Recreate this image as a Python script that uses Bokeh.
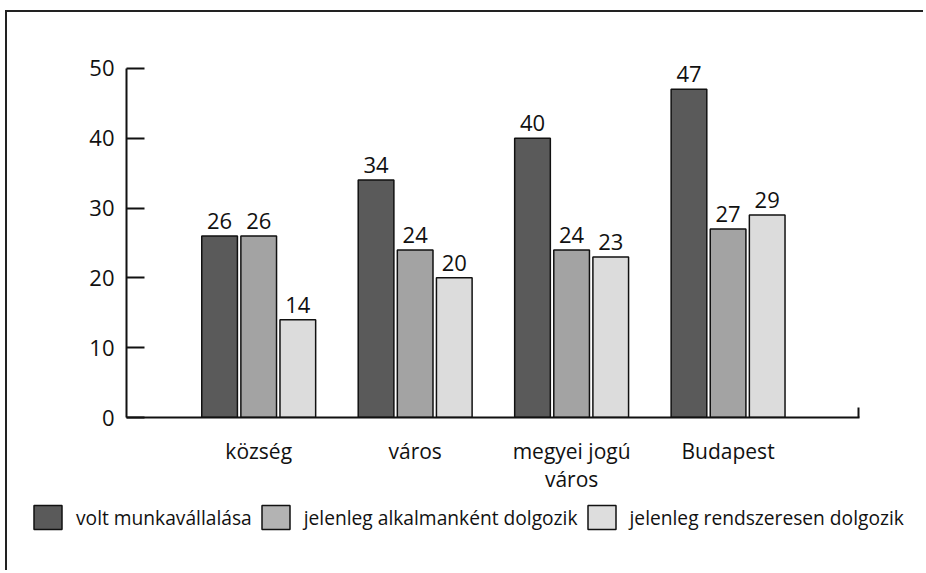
from bokeh.plotting import figure
from bokeh.models import ColumnDataSource, FixedTicker, Range1d, Legend, LegendItem
from bokeh.transform import dodge
from bokeh.core.properties import value
from bokeh.embed import file_html
from bokeh.resources import INLINE

categories = ["község", "város", "megyei jogú\nváros", "Budapest"]
series_names = ["volt munkavállalása", "jelenleg alkalmanként dolgozik", "jelenleg rendszeresen dolgozik"]
volt = [26, 34, 40, 47]
alkalmankent = [26, 24, 24, 27]
rendszeresen = [14, 20, 23, 29]
y_ticks = [0, 10, 20, 30, 40, 50]
colors = ["#5a5a5a", "#a3a3a3", "#dcdcdc"]
legend_colors = ["#5a5a5a", "#b3b3b3", "#dddddd"]

FONT = "Open Sans"
FS_NUM = "22px"
FS_TXT = "21px"
FS_LEG = "19.2px"
INK = "#111111"

xpos = [1, 2, 3, 4]
src = ColumnDataSource(dict(
    x=xpos,
    s0=volt, s1=alkalmankent, s2=rendszeresen,
    t0=[str(v) for v in volt], t1=[str(v) for v in alkalmankent], t2=[str(v) for v in rendszeresen],
))

p = figure(width=918, height=487, output_backend="svg", toolbar_location=None,
           x_range=Range1d(0.155, 4.84), y_range=Range1d(0, 55),
           min_border_left=119, min_border_right=66, min_border_top=21, min_border_bottom=82)
p.styles = {"border-left": "2px solid #222", "border-top": "2px solid #222",
            "margin-top": "10px", "margin-left": "5px"}
p.outline_line_color = None
p.xgrid.visible = False
p.ygrid.visible = False
p.background_fill_color = "white"
p.border_fill_color = "white"

offsets = [-0.25, 0.0, 0.25]
for i, off in enumerate(offsets):
    p.vbar(x=dodge("x", off), top=f"s{i}", width=0.228, source=src,
           fill_color=colors[i], line_color=INK, line_width=1.5)
    p.text(x=dodge("x", off), y=f"s{i}", text=f"t{i}", source=src,
           text_font=value(FONT), text_font_size=FS_NUM, text_color=INK,
           text_align="center", text_baseline="bottom", y_offset=-7)

# axes
xa = p.xaxis[0]
xa.ticker = FixedTicker(ticks=xpos, minor_ticks=[4.835])
xa.major_label_overrides = {i + 1: c for i, c in enumerate(categories)}
xa.major_tick_line_color = None
xa.minor_tick_in = 10
xa.minor_tick_out = 0
xa.minor_tick_line_width = 2
xa.minor_tick_line_color = INK
xa.axis_line_width = 2
xa.axis_line_color = INK
xa.major_label_standoff = 13
xa.major_label_text_font = FONT
xa.major_label_text_font_size = FS_TXT
xa.major_label_text_line_height = 1.0
xa.major_label_text_color = INK

ya = p.yaxis[0]
ya.ticker = FixedTicker(ticks=y_ticks)
ya.bounds = (0, 50)
ya.major_tick_in = 18
ya.major_tick_out = 0
ya.major_tick_line_width = 2
ya.major_tick_line_color = INK
ya.minor_tick_line_color = None
ya.axis_line_width = 2
ya.axis_line_color = INK
ya.major_label_standoff = 12
ya.major_label_text_font = FONT
ya.major_label_text_font_size = FS_NUM
ya.major_label_text_color = INK

# legend strip (separate small figure under the chart, its own root)
lf = figure(width=918, height=73, output_backend="svg", toolbar_location=None,
            x_axis_type=None, y_axis_type=None, x_range=Range1d(0, 1), y_range=Range1d(100, 101),
            min_border_left=0, min_border_right=0, min_border_top=0, min_border_bottom=0)
lf.styles = {"border-left": "2px solid #222", "margin-left": "5px"}
lf.outline_line_color = None
lf.xgrid.visible = False
lf.ygrid.visible = False
lf.background_fill_color = "white"
lf.border_fill_color = "white"
leg_r = [lf.vbar(x="x", top=f"s{i}", width=0.1, source=src, visible=False,
                 fill_color=legend_colors[i], line_color=INK, line_width=1.5) for i in range(3)]
legend = Legend(items=[LegendItem(label=series_names[i], renderers=[leg_r[i]]) for i in range(3)],
                orientation="horizontal", location=(23, 38),
                glyph_width=35, glyph_height=30, label_standoff=11, spacing=6,
                padding=0, margin=0, border_line_color=None, background_fill_alpha=0,
                label_text_font=FONT, label_text_font_size=FS_LEG, label_text_color=INK)
lf.add_layout(legend, "center")

open("out.html", "w").write(file_html([p, lf], INLINE))
